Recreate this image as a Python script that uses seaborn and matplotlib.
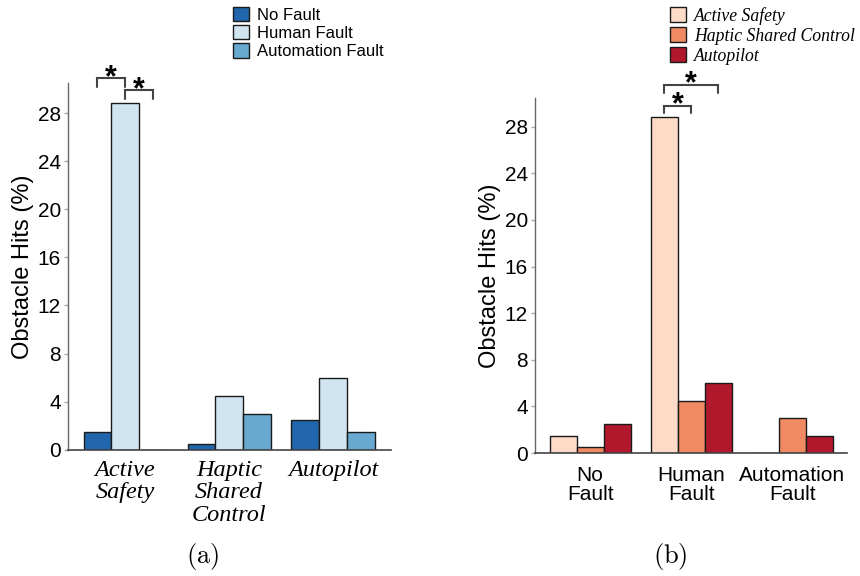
import matplotlib
matplotlib.use("Agg")
import matplotlib.pyplot as plt
from matplotlib.patches import Patch
import seaborn as sns
import pandas as pd

# ---- data ----
systems = ["Active Safety", "Haptic Shared Control", "Autopilot"]
system_labels = ["Active\nSafety", "Haptic\nShared\nControl", "Autopilot"]
faults = ["No Fault", "Human Fault", "Automation Fault"]
fault_labels = ["No\nFault", "Human\nFault", "Automation\nFault"]
# hits per system, one value for each fault condition
hits_active = [1.5, 28.8, 0.0]
hits_haptic = [0.5, 4.5, 3.0]
hits_autopilot = [2.5, 6.0, 1.5]
yticks = [0, 4, 8, 12, 16, 20, 24, 28]

blue_colors = ["#2166ac", "#d1e5f0", "#67a9cf"]
red_colors = ["#fddbc7", "#ef8a62", "#b2182b"]

rows = []
for s, vals in zip(systems, [hits_active, hits_haptic, hits_autopilot]):
    for f, v in zip(faults, vals):
        rows.append({"system": s, "fault": f, "hits": v})
df = pd.DataFrame(rows)

sns.set_style("white")
plt.rcParams["font.family"] = ["Liberation Sans", "DejaVu Sans"]
plt.rcParams["mathtext.fontset"] = "cm"
plt.rcParams["text.color"] = "black"
plt.rcParams["axes.labelcolor"] = "black"
plt.rcParams["xtick.color"] = "black"
plt.rcParams["ytick.color"] = "black"

fig = plt.figure(figsize=(8.6, 5.76), dpi=100)
ax1 = fig.add_axes([0.079, 0.219, 0.376, 0.637])
ax2 = fig.add_axes([0.622, 0.2135, 0.363, 0.617])

edge = "#1a1a1a"
sns.barplot(data=df, x="system", y="hits", hue="fault", order=systems,
            hue_order=faults, palette=blue_colors, width=0.8, saturation=1,
            edgecolor=edge, linewidth=1.0, ax=ax1, legend=False)
sns.barplot(data=df, x="fault", y="hits", hue="system", order=faults,
            hue_order=systems, palette=red_colors, width=0.8, saturation=1,
            edgecolor=edge, linewidth=1.0, ax=ax2, legend=False)

for ax, labels, xl, tfont in [(ax1, system_labels, (-0.55, 2.56), "serif"),
                              (ax2, fault_labels, (-0.545, 2.54), "sans")]:
    ax.set_ylim(0, 30.5)
    ax.set_xlim(*xl)
    ax.set_yticks(yticks)
    ax.set_yticklabels([str(t) for t in yticks], fontsize=15)
    ax.set_xticks(range(3))
    if tfont == "serif":
        ax.set_xticklabels(labels, fontsize=17.5, family="Liberation Serif",
                           style="italic", linespacing=1.1)
        ax.tick_params(axis="x", length=0, pad=7)
    else:
        ax.set_xticklabels(labels, fontsize=15, linespacing=1.05)
        ax.tick_params(axis="x", length=0, pad=9)
    ax.tick_params(axis="y", length=3, width=1, color="#aaaaaa", pad=2,
                   direction="out", left=True, labelcolor="black")
    ax.set_xlabel("")
    ax.set_ylabel("Obstacle Hits (%)", fontsize=17, labelpad=3)
    for sp in ["top", "right"]:
        ax.spines[sp].set_visible(False)
    ax.spines["left"].set_color("#666666")
    ax.spines["left"].set_linewidth(1.0)
    ax.spines["bottom"].set_color("#444444")
    ax.spines["bottom"].set_linewidth(1.2)

# legends
h1 = [Patch(facecolor=c, edgecolor=edge, linewidth=1.0, label=l)
      for c, l in zip(blue_colors, faults)]
fig.legend(handles=h1, loc="upper left", bbox_to_anchor=(0.2635, 1.0),
           frameon=False, fontsize=12, handlelength=0.95, handleheight=0.95,
           handletextpad=0.45, labelspacing=0.14, borderaxespad=0)
h2 = [Patch(facecolor=c, edgecolor=edge, linewidth=1.0, label=l)
      for c, l in zip(red_colors, systems)]
fig.legend(handles=h2, loc="upper left", bbox_to_anchor=(0.7705, 1.0),
           frameon=False, handlelength=0.95, handleheight=0.95,
           handletextpad=0.45, labelspacing=0.12, borderaxespad=0,
           prop={"family": "Liberation Serif", "style": "italic", "size": 12.7})

# significance brackets
def bracket(ax, x0, x1, y, drop):
    ax.plot([x0, x0, x1, x1], [y - drop, y, y, y - drop], color="#444444",
            lw=1.5, clip_on=False, solid_joinstyle="miter")
    ax.text((x0 + x1) / 2, y - 1.25, "*", ha="center", va="bottom",
            fontsize=22, fontweight="bold", clip_on=False)

bw = 0.8 / 3
bracket(ax1, -bw, 0, 30.9, 0.7)
bracket(ax1, 0, bw, 29.9, 0.7)
bracket(ax2, 1 - bw, 1, 29.8, 0.6)
bracket(ax2, 1 - bw, 1 + bw, 31.6, 0.7)

fig.text(0.236, 0.033, r"$\mathrm{(a)}$", ha="center", va="center", fontsize=19)
fig.text(0.779, 0.033, r"$\mathrm{(b)}$", ha="center", va="center", fontsize=19)

fig.savefig("out.png", dpi=100)
